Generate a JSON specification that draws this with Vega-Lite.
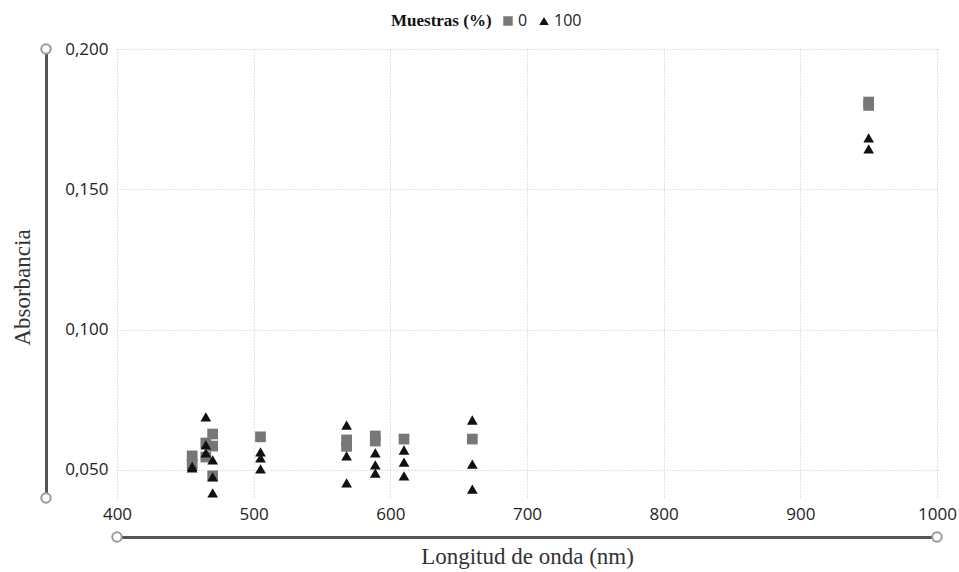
{
  "$schema": "https://vega.github.io/schema/vega-lite/v6.json",
  "autosize": {"type": "none"},
  "padding": {"left": 117, "top": 49, "right": 22, "bottom": 74},
  "width": 820,
  "height": 449,
  "background": "white",
  "config": {
    "view": {"stroke": null},
    "axis": {
      "labelFont": "Open Sans",
      "labelFontSize": 17,
      "labelColor": "#222",
      "titleFont": "Liberation Serif",
      "titleFontSize": 23,
      "titleFontWeight": "normal",
      "titleColor": "#333",
      "gridColor": "#c4c4c4",
      "gridDash": [1, 2],
      "gridWidth": 1,
      "ticks": false,
      "tickSize": 0,
      "domainColor": "#555",
      "domainWidth": 3
    }
  },
  "data": {
    "values": [
      {"longitud": 455, "absorbancia": 0.0550, "muestra": "0"},
      {"longitud": 455, "absorbancia": 0.0521, "muestra": "0"},
      {"longitud": 465, "absorbancia": 0.0596, "muestra": "0"},
      {"longitud": 465, "absorbancia": 0.0546, "muestra": "0"},
      {"longitud": 470, "absorbancia": 0.0628, "muestra": "0"},
      {"longitud": 470, "absorbancia": 0.0585, "muestra": "0"},
      {"longitud": 470, "absorbancia": 0.0479, "muestra": "0"},
      {"longitud": 505, "absorbancia": 0.0618, "muestra": "0"},
      {"longitud": 568, "absorbancia": 0.0607, "muestra": "0"},
      {"longitud": 568, "absorbancia": 0.0584, "muestra": "0"},
      {"longitud": 589, "absorbancia": 0.0621, "muestra": "0"},
      {"longitud": 589, "absorbancia": 0.0603, "muestra": "0"},
      {"longitud": 610, "absorbancia": 0.0610, "muestra": "0"},
      {"longitud": 660, "absorbancia": 0.0610, "muestra": "0"},
      {"longitud": 950, "absorbancia": 0.1811, "muestra": "0"},
      {"longitud": 950, "absorbancia": 0.1799, "muestra": "0"},
      {"longitud": 455, "absorbancia": 0.0507, "muestra": "100"},
      {"longitud": 455, "absorbancia": 0.0513, "muestra": "100"},
      {"longitud": 465, "absorbancia": 0.0689, "muestra": "100"},
      {"longitud": 465, "absorbancia": 0.0589, "muestra": "100"},
      {"longitud": 465, "absorbancia": 0.0561, "muestra": "100"},
      {"longitud": 470, "absorbancia": 0.0536, "muestra": "100"},
      {"longitud": 470, "absorbancia": 0.0475, "muestra": "100"},
      {"longitud": 470, "absorbancia": 0.0418, "muestra": "100"},
      {"longitud": 505, "absorbancia": 0.0564, "muestra": "100"},
      {"longitud": 505, "absorbancia": 0.0543, "muestra": "100"},
      {"longitud": 505, "absorbancia": 0.0504, "muestra": "100"},
      {"longitud": 568, "absorbancia": 0.0660, "muestra": "100"},
      {"longitud": 568, "absorbancia": 0.0550, "muestra": "100"},
      {"longitud": 568, "absorbancia": 0.0454, "muestra": "100"},
      {"longitud": 589, "absorbancia": 0.0561, "muestra": "100"},
      {"longitud": 589, "absorbancia": 0.0518, "muestra": "100"},
      {"longitud": 589, "absorbancia": 0.0489, "muestra": "100"},
      {"longitud": 610, "absorbancia": 0.0571, "muestra": "100"},
      {"longitud": 610, "absorbancia": 0.0528, "muestra": "100"},
      {"longitud": 610, "absorbancia": 0.0479, "muestra": "100"},
      {"longitud": 660, "absorbancia": 0.0678, "muestra": "100"},
      {"longitud": 660, "absorbancia": 0.0521, "muestra": "100"},
      {"longitud": 660, "absorbancia": 0.0432, "muestra": "100"},
      {"longitud": 950, "absorbancia": 0.1683, "muestra": "100"},
      {"longitud": 950, "absorbancia": 0.1644, "muestra": "100"}
    ]
  },
  "layer": [
    {
      "mark": {"type": "point", "filled": true, "size": 115, "opacity": 1},
      "encoding": {
        "x": {
          "field": "longitud",
          "type": "quantitative",
          "scale": {"domain": [400, 1000], "nice": false, "zero": false},
          "axis": {
            "title": "Longitud de onda (nm)",
            "values": [400, 500, 600, 700, 800, 900, 1000],
            "format": "d",
            "offset": 39,
            "labelPadding": -23,
            "labelBaseline": "middle",
            "labelFlush": false,
            "titlePadding": 8,
            "grid": true
          }
        },
        "y": {
          "field": "absorbancia",
          "type": "quantitative",
          "scale": {"domain": [0.04, 0.2], "nice": false, "zero": false},
          "axis": {
            "title": "Absorbancia",
            "values": [0.05, 0.1, 0.15, 0.2],
            "labelExpr": "replace(format(datum.value, '.3f'), '.', ',')",
            "offset": 71,
            "labelPadding": -62,
            "labelAlign": "right",
            "labelBaseline": "middle",
            "labelFlush": false,
            "titlePadding": 12,
            "titleY": 238,
            "grid": true
          }
        },
        "color": {
          "field": "muestra",
          "type": "nominal",
          "scale": {"domain": ["0", "100"], "range": ["#777777", "#111111"]},
          "legend": {
            "title": "Muestras (%)",
            "orient": "none",
            "legendX": 274,
            "legendY": -36,
            "direction": "horizontal",
            "titleOrient": "left",
            "titleFont": "Liberation Serif",
            "titleFontSize": 17,
            "titleFontWeight": "bold",
            "titleColor": "#111",
            "titlePadding": 8,
            "labelFont": "Open Sans",
            "labelFontSize": 16,
            "labelColor": "#222",
            "labelOffset": 2,
            "columnPadding": 8,
            "symbolSize": 90,
            "symbolStrokeWidth": 0
          }
        },
        "shape": {
          "field": "muestra",
          "type": "nominal",
          "scale": {"domain": ["0", "100"], "range": ["square", "triangle-up"]},
          "legend": {
            "title": "Muestras (%)",
            "orient": "none",
            "legendX": 274,
            "legendY": -36,
            "direction": "horizontal",
            "titleOrient": "left",
            "titleFont": "Liberation Serif",
            "titleFontSize": 17,
            "titleFontWeight": "bold",
            "titleColor": "#111",
            "titlePadding": 8,
            "labelFont": "Open Sans",
            "labelFontSize": 16,
            "labelColor": "#222",
            "labelOffset": 2,
            "columnPadding": 8,
            "symbolSize": 90,
            "symbolStrokeWidth": 0
          }
        }
      }
    },
    {
      "data": {"values": [{}]},
      "mark": {"type": "point", "filled": true, "fill": "white", "stroke": "#999", "strokeWidth": 2, "size": 90, "opacity": 1, "xOffset": -71},
      "encoding": {"x": {"datum": 400, "type": "quantitative"}, "y": {"datum": 0.2, "type": "quantitative"}}
    },
    {
      "data": {"values": [{}]},
      "mark": {"type": "point", "filled": true, "fill": "white", "stroke": "#999", "strokeWidth": 2, "size": 90, "opacity": 1, "xOffset": -71},
      "encoding": {"x": {"datum": 400, "type": "quantitative"}, "y": {"datum": 0.04, "type": "quantitative"}}
    },
    {
      "data": {"values": [{}]},
      "mark": {"type": "point", "filled": true, "fill": "white", "stroke": "#999", "strokeWidth": 2, "size": 90, "opacity": 1, "yOffset": 39},
      "encoding": {"x": {"datum": 400, "type": "quantitative"}, "y": {"datum": 0.04, "type": "quantitative"}}
    },
    {
      "data": {"values": [{}]},
      "mark": {"type": "point", "filled": true, "fill": "white", "stroke": "#999", "strokeWidth": 2, "size": 90, "opacity": 1, "yOffset": 39},
      "encoding": {"x": {"datum": 1000, "type": "quantitative"}, "y": {"datum": 0.04, "type": "quantitative"}}
    }
  ]
}
